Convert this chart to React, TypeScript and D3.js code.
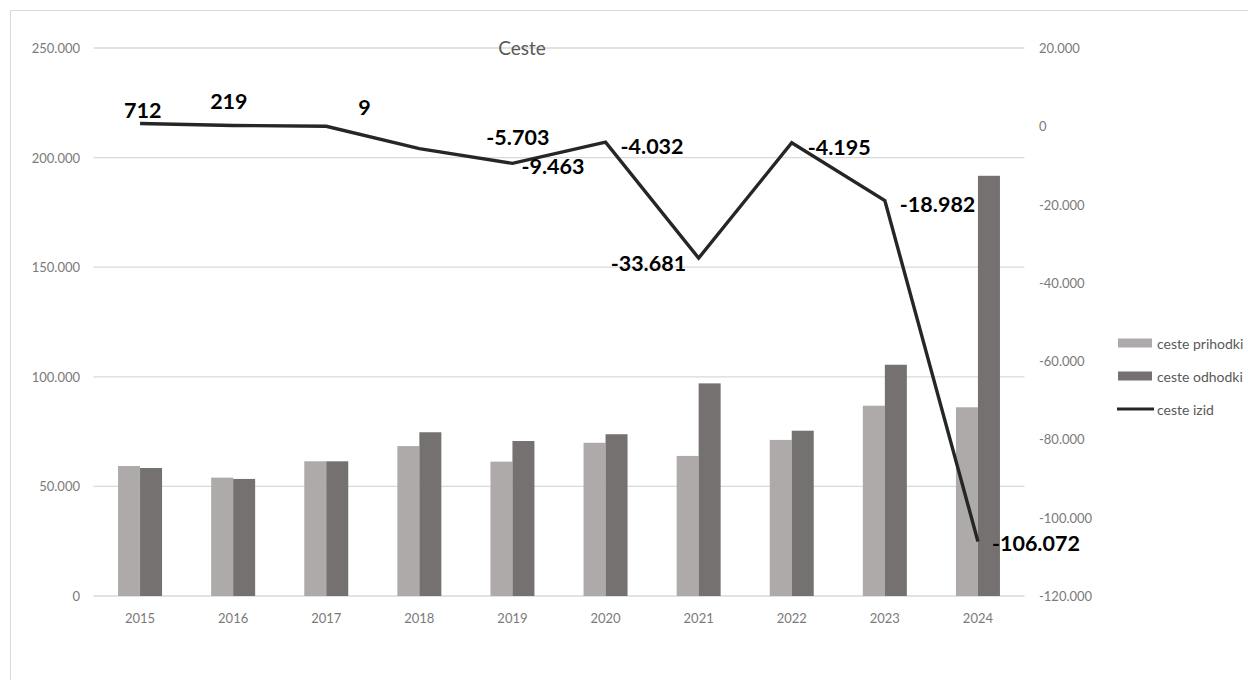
import React from "react";
import * as d3 from "d3";

const years = ["2015", "2016", "2017", "2018", "2019", "2020", "2021", "2022", "2023", "2024"];
const prihodki = [59300, 54000, 61450, 68400, 61300, 69900, 63900, 71200, 86800, 86100];
const odhodki = [58400, 53400, 61450, 74700, 70700, 73800, 97000, 75400, 105500, 191700];
const izid = [712, 219, 9, -5703, -9463, -4032, -33681, -4195, -18982, -106072];
const izidLabels = ["712", "219", "9", "-5.703", "-9.463", "-4.032", "-33.681", "-4.195", "-18.982", "-106.072"];
const leftTicks = [0, 50000, 100000, 150000, 200000, 250000];
const rightTicks = [20000, 0, -20000, -40000, -60000, -80000, -100000, -120000];
const seriesNames = ["ceste prihodki", "ceste odhodki", "ceste izid"];

// label offsets (layout only)
const labelOffsets: [number, number][] = [
  [-16, -13], [-23, -24], [32, -19], [67, -12], [9, 3],
  [15, 4], [-88, 5], [16, 4], [15, 3], [14, 2],
];

const fmt = (v: number) => {
  const s = d3.format(",")(v).replace(/,/g, ".");
  return s.replace("−", "-");
};

export default function App() {
  const W = 1248, H = 680;
  const top = 48, bottom = 596, left = 93.5, right = 1024.5;
  const x = d3.scaleBand<string>().domain(years).range([left, right]).paddingInner(0).paddingOuter(0);
  const inner = d3.scaleBand<string>().domain(["p", "o"]).range([0, x.bandwidth()]).paddingInner(0).paddingOuter(1.116);
  const yL = d3.scaleLinear().domain([0, 250000]).range([bottom, top]);
  const yR = d3.scaleLinear().domain([-120000, 20000]).range([bottom, top]);
  const cx = (y: string) => (x(y) as number) + x.bandwidth() / 2;
  const line = d3.line<number>().x((_, i) => cx(years[i])).y((d) => yR(d));
  const font = "Lato, 'Open Sans', sans-serif";
  const light = "#aeaaaa", dark = "#757171", lineC = "#262626";

  return (
    <div style={{ position: "absolute", left: 0, top: 0 }}>
      <svg width={W} height={H} style={{ display: "block", background: "#fff" }}>
        <line x1={10.5} y1={10.5} x2={W} y2={10.5} stroke="#d9d9d9" />
        <line x1={10.5} y1={10.5} x2={10.5} y2={H} stroke="#d9d9d9" />
        {leftTicks.map((t) => (
          <g key={t}>
            <line x1={left} x2={right} y1={yL(t)} y2={yL(t)} stroke="#d9d9d9" strokeWidth={1.3} />
            <text x={80} y={yL(t)} textAnchor="end" dominantBaseline="central" fontFamily={font} fontSize={13} fill="#7a7a7a">
              {fmt(t)}
            </text>
          </g>
        ))}
        {rightTicks.map((t) => (
          <text key={t} x={1039} y={yR(t)} dominantBaseline="central" fontFamily={font} fontSize={13} fill="#7a7a7a">
            {fmt(t)}
          </text>
        ))}
        <text x={522} y={47} textAnchor="middle" dominantBaseline="central" fontFamily={font} fontSize={19} fill="#595959">
          Ceste
        </text>
        {years.map((yr, i) => (
          <g key={yr}>
            <rect x={(x(yr) as number) + (inner("p") as number)} y={yL(prihodki[i])} width={inner.bandwidth()} height={bottom - yL(prihodki[i])} fill={light} />
            <rect x={(x(yr) as number) + (inner("o") as number)} y={yL(odhodki[i])} width={inner.bandwidth()} height={bottom - yL(odhodki[i])} fill={dark} />
            <text x={cx(yr)} y={618} textAnchor="middle" dominantBaseline="central" fontFamily={font} fontSize={13} fill="#7a7a7a">
              {yr}
            </text>
          </g>
        ))}
        <path d={line(izid) || ""} fill="none" stroke={lineC} strokeWidth={3.4} strokeLinejoin="miter" />
        {izid.map((v, i) => (
          <text key={i} x={cx(years[i]) + labelOffsets[i][0]} y={yR(v) + labelOffsets[i][1]} dominantBaseline="central" fontFamily={font} fontWeight={700} fontSize={21.5} fill="#000">
            {izidLabels[i]}
          </text>
        ))}
        {seriesNames.map((n, i) => {
          const ly = 343 + i * 33;
          return (
            <g key={n}>
              {i < 2 ? (
                <rect x={1118} y={ly - 4.5} width={34} height={9} fill={i === 0 ? light : dark} />
              ) : (
                <line x1={1117} x2={1154} y1={ly} y2={ly} stroke={lineC} strokeWidth={3} />
              )}
              <text x={1157} y={ly} dominantBaseline="central" fontFamily={font} fontSize={14} fill="#595959">
                {n}
              </text>
            </g>
          );
        })}
      </svg>
    </div>
  );
}
